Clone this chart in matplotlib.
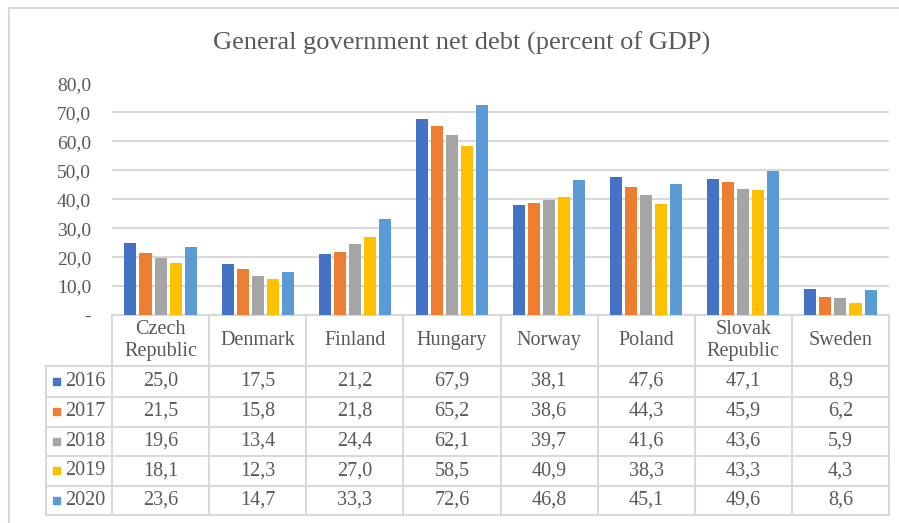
import matplotlib.pyplot as plt
from matplotlib.lines import Line2D
from matplotlib.patches import Rectangle
from matplotlib.transforms import blended_transform_factory

# data
countries = ["Czech\nRepublic", "Denmark", "Finland", "Hungary", "Norway",
             "Poland", "Slovak\nRepublic", "Sweden"]
years = ["2016", "2017", "2018", "2019", "2020"]
debt_2016 = [25.0, 17.5, 21.2, 67.9, 38.1, 47.6, 47.1, 8.9]
debt_2017 = [21.5, 15.8, 21.8, 65.2, 38.6, 44.3, 45.9, 6.2]
debt_2018 = [19.6, 13.4, 24.4, 62.1, 39.7, 41.6, 43.6, 5.9]
debt_2019 = [18.1, 12.3, 27.0, 58.5, 40.9, 38.3, 43.3, 4.3]
debt_2020 = [23.6, 14.7, 33.3, 72.6, 46.8, 45.1, 49.6, 8.6]
series = [debt_2016, debt_2017, debt_2018, debt_2019, debt_2020]
colors = ["#4472C4", "#ED7D31", "#A5A5A5", "#FFC000", "#5B9BD5"]

W, H = 899, 523
TXT = "#595959"
GRID = "#D9D9D9"
SERIF = "Liberation Serif"
FS = 14.5

def fx(px):
    return px / W

def fy(py):
    return 1 - py / H

fig = plt.figure(figsize=(W / 100, H / 100), dpi=100)

# plot area in pixels: x 112..889, y 83.5 (80) .. 315 (0)
ax = fig.add_axes([fx(112), fy(315), fx(889) - fx(112), fy(83.5) - fy(315)])
ax.set_xlim(-0.5, len(countries) - 0.5)
ax.set_ylim(0, 80)

step, width = 0.155, 0.124
for k, vals in enumerate(series):
    xs = [i + (k - 2) * step for i in range(len(countries))]
    ax.bar(xs, vals, width=width, color=colors[k], zorder=3)

ax.set_yticks(range(0, 81, 10))
ax.set_yticklabels(["-"] + [f"{v},0" for v in range(10, 81, 10)],
                   family=SERIF, fontsize=14, color=TXT)
ax.tick_params(axis="y", length=0, pad=15)
ax.set_xticks([])
ax.grid(axis="y", color=GRID, lw=1.5, zorder=0)
for s in ["top", "right", "left"]:
    ax.spines[s].set_visible(False)
ax.spines["bottom"].set_color(GRID)
ax.spines["bottom"].set_linewidth(1.5)
ax.set_facecolor("none")

fig.text(fx(462), fy(43), "General government net debt (percent of GDP)",
         family=SERIF, fontsize=19, color=TXT, ha="center", va="center")

# data table under the axis
rows = [315, 366, 396.5, 426.5, 456, 485.5, 515]
tr = blended_transform_factory(ax.transData, fig.transFigure)

for i in range(len(countries) + 1):
    fig.add_artist(Line2D([i - 0.5, i - 0.5], [fy(315), fy(515)],
                          transform=tr, color=GRID, lw=1.5))
fig.add_artist(Line2D([fx(46), fx(46)], [fy(366), fy(515)],
                      transform=fig.transFigure, color=GRID, lw=1.5))
for r in rows[1:]:
    fig.add_artist(Line2D([fx(46), fx(889)], [fy(r), fy(r)],
                          transform=fig.transFigure, color=GRID, lw=1.5))

hy = (rows[0] + rows[1]) / 2
for i, name in enumerate(countries):
    fig.text(i, fy(hy), name, transform=tr, family=SERIF, fontsize=FS,
             color=TXT, ha="center", va="center", linespacing=1.2)

for k, vals in enumerate(series):
    cy = (rows[k + 1] + rows[k + 2]) / 2
    fig.add_artist(Rectangle((fx(53), fy(cy + 3.5)), fx(7), 7 / H,
                             transform=fig.transFigure, color=colors[k]))
    fig.text(fx(65), fy(cy), years[k], family=SERIF, fontsize=FS,
             color=TXT, ha="left", va="center")
    for i, v in enumerate(vals):
        fig.text(i, fy(cy), f"{v:.1f}".replace(".", ","), transform=tr,
                 family=SERIF, fontsize=FS, color=TXT, ha="center", va="center")

# chart frame
fig.add_artist(Line2D([fx(9), fx(9)], [0, fy(7.5)],
                      transform=fig.transFigure, color=GRID, lw=1.5))
fig.add_artist(Line2D([fx(9), 1], [fy(7.5), fy(7.5)],
                      transform=fig.transFigure, color=GRID, lw=1.5))

fig.savefig("out.png", dpi=100)
